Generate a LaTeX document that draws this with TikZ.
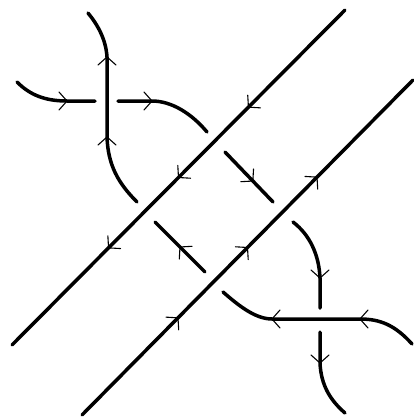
\documentclass[tikz,border=0pt]{standalone}
\usepackage{tikz}
\usetikzlibrary{calc}
\tikzset{
	strand/.style={draw=black,line width=3.5pt,line cap=round},
	chev/.pic={\draw[line width=1.1pt,line cap=round] (-8,-9) -- (0,0) -- (-8,9);},
}

\begin{document}
\begin{tikzpicture}[x=1pt,y=-1pt]
	\useasboundingbox (0,0) rectangle (414,418);
	% the two diagonals
	\coordinate (ua) at (345,10);
	\coordinate (ub) at (12,345);
	\coordinate (la) at (82,415);
	\coordinate (lb) at (413,80);
	\draw[strand] (ua) -- (ub);
	\draw[strand] (la) -- (lb);
	\foreach \t in {0.29,0.5,0.71} {
		\pic[rotate=-135] at ($(ua)!\t!(ub)$) {chev};
		\pic[rotate=45] at ($(la)!\t!(lb)$) {chev};
	}
	% strand entering from the left
	\coordinate (a0) at (17,82);
	\coordinate (a1) at (67,101);
	\coordinate (a2) at (95,101);
	\coordinate (a3) at (118,101);
	\coordinate (a4) at (152,101);
	\coordinate (a5) at (207,132);
	\coordinate (a6) at (225,152);
	\coordinate (a7) at (273,202);
	\coordinate (a8) at (293,222);
	\coordinate (a9) at (320,278);
	\coordinate (a10) at (320,308);
	\coordinate (a11) at (320,332);
	\coordinate (a12) at (320,363);
	\coordinate (a13) at (345,413);
	\draw[strand] (a0) .. controls (30,95) and (45,101) .. (a1) -- (a2);
	\draw[strand] (a3) -- (a4) .. controls (172,101) and (192,114) .. (a5);
	\draw[strand] (a6) -- (a7);
	\draw[strand] (a8) .. controls (310,235) and (319,255) .. (a9) -- (a10);
	\draw[strand] (a11) -- (a12) .. controls (321,385) and (330,400) .. (a13);
	\pic at (a1) {chev};
	\pic at (a4) {chev};
	\pic[rotate=-45] at ($(a6)!0.58!(a7)$) {chev};
	\pic[rotate=-90] at (a9) {chev};
	\pic[rotate=-90] at (a12) {chev};
	% strand entering from the right
	\coordinate (b0) at (412,344);
	\coordinate (b1) at (360,319);
	\coordinate (b2) at (272,319);
	\coordinate (b3) at (223,292);
	\coordinate (b4) at (205,272);
	\coordinate (b5) at (155,222);
	\coordinate (b6) at (137,202);
	\coordinate (b7) at (107,137);
	\coordinate (b8) at (107,57);
	\coordinate (b9) at (88,13);
	\draw[strand] (b0) .. controls (395,325) and (380,319) .. (b1) -- (b2) .. controls (255,319) and (238,305) .. (b3);
	\draw[strand] (b4) -- (b5);
	\draw[strand] (b6) .. controls (118,183) and (108,165) .. (b7) -- (b8) .. controls (106,40) and (98,25) .. (b9);
	\pic[rotate=180] at (b1) {chev};
	\pic[rotate=180] at (b2) {chev};
	\pic[rotate=135] at ($(b4)!0.5!(b5)$) {chev};
	\pic[rotate=90] at (b7) {chev};
	\pic[rotate=90] at (b8) {chev};
\end{tikzpicture}
\end{document}
